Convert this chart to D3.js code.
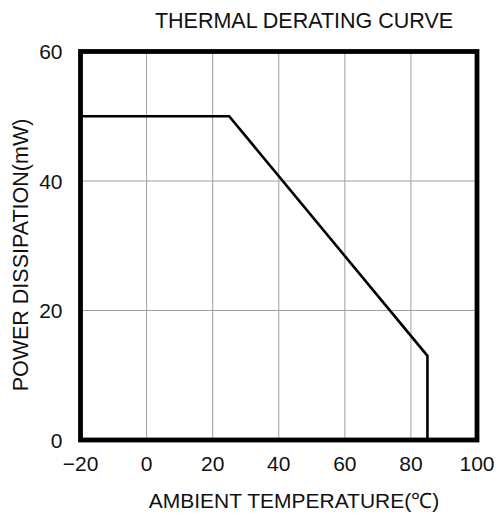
<!DOCTYPE html>
<meta charset="utf-8">
<script src="https://d3js.org/d3.v7.min.js"></script>
<style>
  body { margin: 0; background: #fff; }
  text { font-family: "Liberation Sans", Arial, sans-serif; fill: #111; }
</style>
<div id="my_dataviz"></div>
<script>

    // derating curve: ambient temperature (°C) vs power dissipation (mW)
    var temps = [-20, 25, 85, 85];
    var power = [50, 50, 13, 0];

    var xTicks = [-20, 0, 20, 40, 60, 80, 100];
    var yTicks = [0, 20, 40, 60];

    var W = 500, H = 515;
    var margin = {top: 51.5, right: 23, bottom: 75, left: 80.5},
        width = W - margin.left - margin.right,
        height = H - margin.top - margin.bottom;

    var svg = d3.select("#my_dataviz")
        .append("svg")
        .attr("width", W)
        .attr("height", H);

    var g = svg.append("g")
        .attr("transform", "translate(" + margin.left + "," + margin.top + ")");

    var x = d3.scaleLinear().domain([-20, 100]).range([0, width]);
    var y = d3.scaleLinear().domain([0, 60]).range([height, 0]);

    // grid
    g.append("g")
        .selectAll("line")
        .data(xTicks.slice(1, -1))
        .enter().append("line")
        .attr("x1", function(d) { return x(d); })
        .attr("x2", function(d) { return x(d); })
        .attr("y1", 0).attr("y2", height)
        .attr("stroke", "#a0a0a0").attr("stroke-width", 1);

    g.append("g")
        .selectAll("line")
        .data(yTicks.slice(1, -1))
        .enter().append("line")
        .attr("y1", function(d) { return y(d); })
        .attr("y2", function(d) { return y(d); })
        .attr("x1", 0).attr("x2", width)
        .attr("stroke", "#a0a0a0").attr("stroke-width", 1);

    // curve
    var line = d3.line()
        .x(function(d, i) { return x(temps[i]); })
        .y(function(d) { return y(d); });

    g.append("path")
        .datum(power)
        .attr("d", line)
        .attr("fill", "none")
        .attr("stroke", "#000")
        .attr("stroke-width", 2.6);

    // frame
    g.append("rect")
        .attr("x", 0).attr("y", 0)
        .attr("width", width).attr("height", height)
        .attr("fill", "none")
        .attr("stroke", "#000")
        .attr("stroke-width", 4.8);

    // tick labels
    g.append("g")
        .selectAll("text")
        .data(xTicks)
        .enter().append("text")
        .attr("x", function(d) { return x(d); })
        .attr("y", height + 31)
        .attr("text-anchor", "middle")
        .style("font-size", "21px")
        .text(function(d) { return d < 0 ? "\u2212" + Math.abs(d) : d; });

    g.append("g")
        .selectAll("text")
        .data(yTicks)
        .enter().append("text")
        .attr("x", -18)
        .attr("y", function(d) { return y(d); })
        .attr("dy", "0.36em")
        .attr("text-anchor", "end")
        .style("font-size", "21px")
        .text(function(d) { return d; });

    // titles
    svg.append("text")
        .attr("x", 304).attr("y", 28)
        .attr("text-anchor", "middle")
        .style("font-size", "21.5px")
        .text("THERMAL DERATING CURVE");

    svg.append("text")
        .attr("x", 294).attr("y", 508)
        .attr("text-anchor", "middle")
        .style("font-size", "21px")
        .text("AMBIENT TEMPERATURE(\u2103)");

    svg.append("text")
        .attr("transform", "translate(28,255) rotate(-90)")
        .attr("text-anchor", "middle")
        .style("font-size", "21.5px")
        .text("POWER DISSIPATION(mW)");

</script>
